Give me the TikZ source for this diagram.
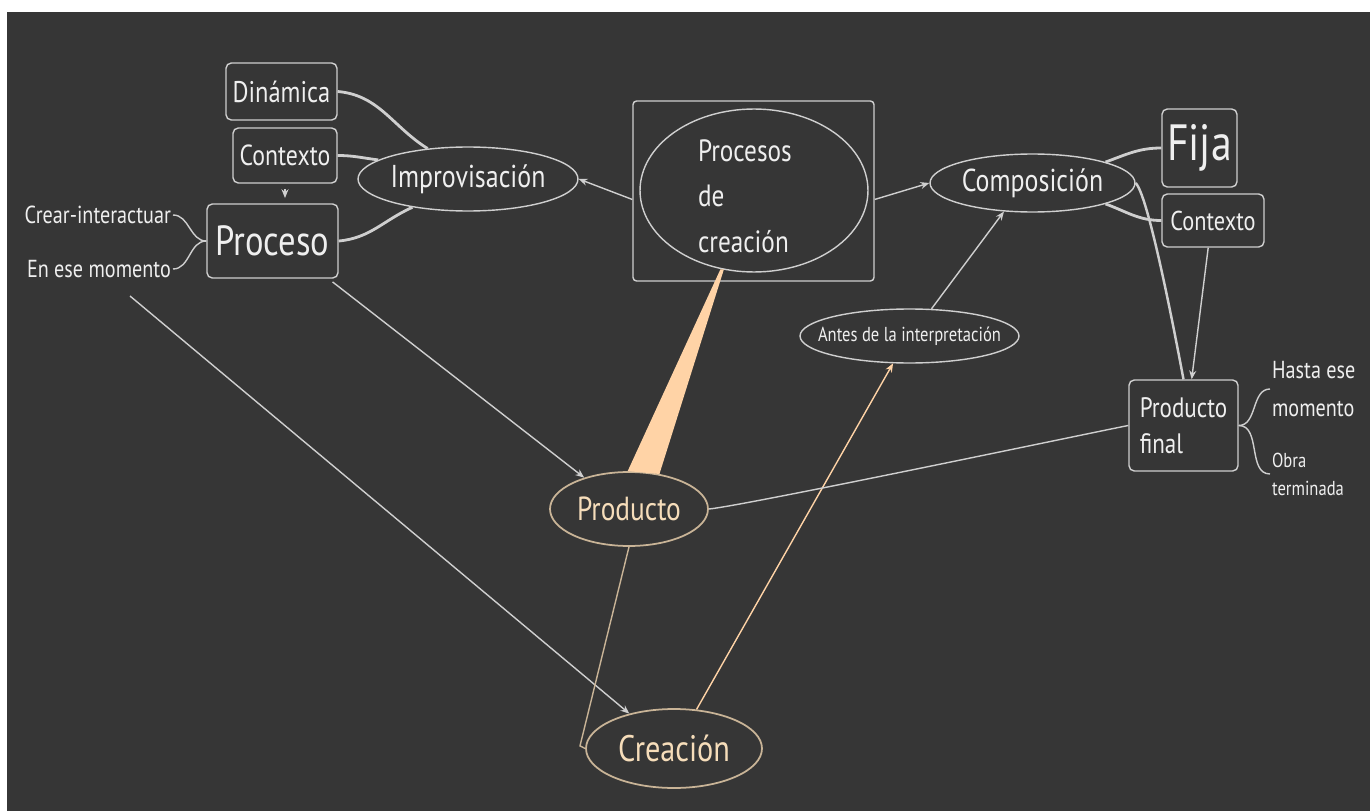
\documentclass[tikz,border=0pt]{standalone}
\usepackage{fontspec}
\setmainfont{PT Sans}[FakeStretch=0.82]
\usepackage{tikz}
\usetikzlibrary{arrows.meta,shapes.geometric}
\definecolor{fondo}{HTML}{363636}
\definecolor{tiza}{HTML}{EFEFEF}
\definecolor{borde}{HTML}{CFCFCF}
\definecolor{melocoton}{HTML}{FFD3A6}
\definecolor{arena}{HTML}{C9B497}
\definecolor{crema}{HTML}{F6DDBA}

\begin{document}
\begin{tikzpicture}[x=0.02cm, y=-0.02cm,
      caja/.style={draw=borde, line width=0.8pt, rounded corners=3pt,
                   text=tiza, align=center, inner sep=2pt},
      elip/.style={ellipse, draw=borde, line width=0.8pt, inner sep=0pt},
      dorada/.style={ellipse, draw=arena, line width=1pt, inner sep=0pt},
      nota/.style={text=tiza, inner sep=1pt},
      rama/.style={draw=borde, line width=1.6pt},
      linea/.style={draw=borde, line width=0.8pt},
      flecha/.style={linea, -{Stealth[length=5pt,width=4pt]}}
  ]
    \useasboundingbox (0,0) rectangle (1370,811);
    \fill[white] (0,0) rectangle (1370,811);
    \fill[fondo] (7,12) rectangle (1370,811);

    % izquierda
    \node[caja, minimum width=2.22cm, minimum height=1.14cm,
          font=\fontsize{17}{20}\selectfont] (din) at (281.5,91.5) {Dinámica};
    \node[caja, minimum width=2.08cm, minimum height=1.10cm,
          font=\fontsize{16.5}{20}\selectfont] (ctxL) at (285,155.5) {Contexto};
    \node[caja, minimum width=2.62cm, minimum height=1.48cm,
          font=\fontsize{24}{28}\selectfont] (proc) at (272.5,241) {Proceso};
    \node[nota, anchor=east, font=\fontsize{14}{17}\selectfont] (crear) at (173,215) {Crear-interactuar};
    \node[nota, anchor=east, font=\fontsize{14}{17}\selectfont] (ese) at (173,269) {En ese momento};
    \node[elip, minimum width=4.40cm, minimum height=1.28cm,
          label={[nota, font=\fontsize{18}{21}\selectfont]center:Improvisación}] (imp) at (468,179) {};

    % centro
    \node[caja, rounded corners=2pt, minimum width=4.82cm, minimum height=3.60cm] (centro) at (753.5,191) {};
    \node[elip, minimum width=4.56cm, minimum height=3.26cm] (nucleo) at (754,190.5) {};
    \node[nota, anchor=west, align=left, font=\fontsize{17.5}{26}\selectfont] (titulo) at (696,196) {Procesos\\de\\creación};

    % derecha
    \node[elip, minimum width=4.10cm, minimum height=1.16cm,
          label={[nota, font=\fontsize{18}{21}\selectfont]center:Composición}] (comp) at (1032.5,183) {};
    \node[caja, minimum width=1.50cm, minimum height=1.56cm,
          font=\fontsize{29}{32}\selectfont] (fija) at (1199.5,148) {Fija};
    \node[caja, minimum width=2.04cm, minimum height=1.06cm,
          font=\fontsize{15.5}{19}\selectfont] (ctxR) at (1213,220.5) {Contexto};
    \node[caja, minimum width=2.18cm, minimum height=1.82cm, align=left,
          font=\fontsize{16}{20.5}\selectfont] (pfin) at (1183.5,425.5) {Producto\\final};
    \node[nota, anchor=west, align=left, font=\fontsize{14}{21.5}\selectfont] (hasta) at (1270,389) {Hasta ese\\momento};
    \node[nota, anchor=west, align=left, font=\fontsize{11.5}{16}\selectfont] (obra) at (1270,474) {Obra\\terminada};

    % abajo
    \node[elip, minimum width=4.38cm, minimum height=1.08cm,
          label={[nota, font=\fontsize{11.5}{14}\selectfont]center:Antes de la interpretación}] (antes) at (909.5,336) {};
    \node[dorada, minimum width=3.16cm, minimum height=1.48cm,
          label={[nota, text=crema, font=\fontsize{19}{22}\selectfont]center:Producto}] (prod) at (629,509) {};
    \node[dorada, minimum width=3.52cm, minimum height=1.58cm,
          label={[nota, text=crema, font=\fontsize{21}{24}\selectfont]center:Creación}] (crea) at (674,748.5) {};

    % ramas gruesas
    \draw[rama] (din.east) to[out=-5,in=148] (imp.143);
    \draw[rama] (ctxL.east) to[out=0,in=173] (imp.168);
    \draw[rama] (proc.east) to[out=5,in=204] (imp.207);
    \draw[rama] (comp.16) to[out=20,in=180] (fija.west);
    \draw[rama] (comp.-16) to[out=-20,in=180] (ctxR.west);
    \draw[rama, line width=1.4pt] (comp.east) to[out=-45,in=101,looseness=0.25] (pfin.north);

    % flechas
    \draw[flecha] (centro.184) -- (imp.east);
    \draw[flecha] (centro.-4) -- (comp.west);
    \draw[flecha, shorten <=3pt, shorten >=3pt] (ctxL.south) -- (ctxL.south |- proc.north);
    \draw[flecha] (ctxR.260) -- (pfin.80);
    \draw[flecha, shorten <=3pt] (proc.-34) -- (prod.145);
    \coordinate (ese-pie) at (130,296);
    \draw[flecha] (ese-pie) -- (crea.142);
    \draw[flecha] (antes.51) -- (comp.225);
    \draw[flecha, draw=melocoton] (crea.60) -- (antes.239);

    % lineas
    \draw[linea] (crear.east) to[out=0,in=180] (proc.west);
    \draw[linea] (ese.east) to[out=0,in=180] (proc.west);
    \draw[linea] (pfin.east) to[out=0,in=180] (hasta.west);
    \draw[linea] (pfin.east) to[out=0,in=180] (obra.west);
    \draw[linea] (prod.east) to[out=5,in=191,looseness=0.2] (pfin.west);
    \draw[linea, draw=arena] (prod.south) -- ++(-49,199) -- (crea.west);

    % cuña
    \fill[melocoton] ([xshift=-1pt]nucleo.-112) -- ([xshift=1pt]nucleo.-112)
          -- (prod.49) -- (prod.92) -- cycle;
  \end{tikzpicture}
\end{document}
